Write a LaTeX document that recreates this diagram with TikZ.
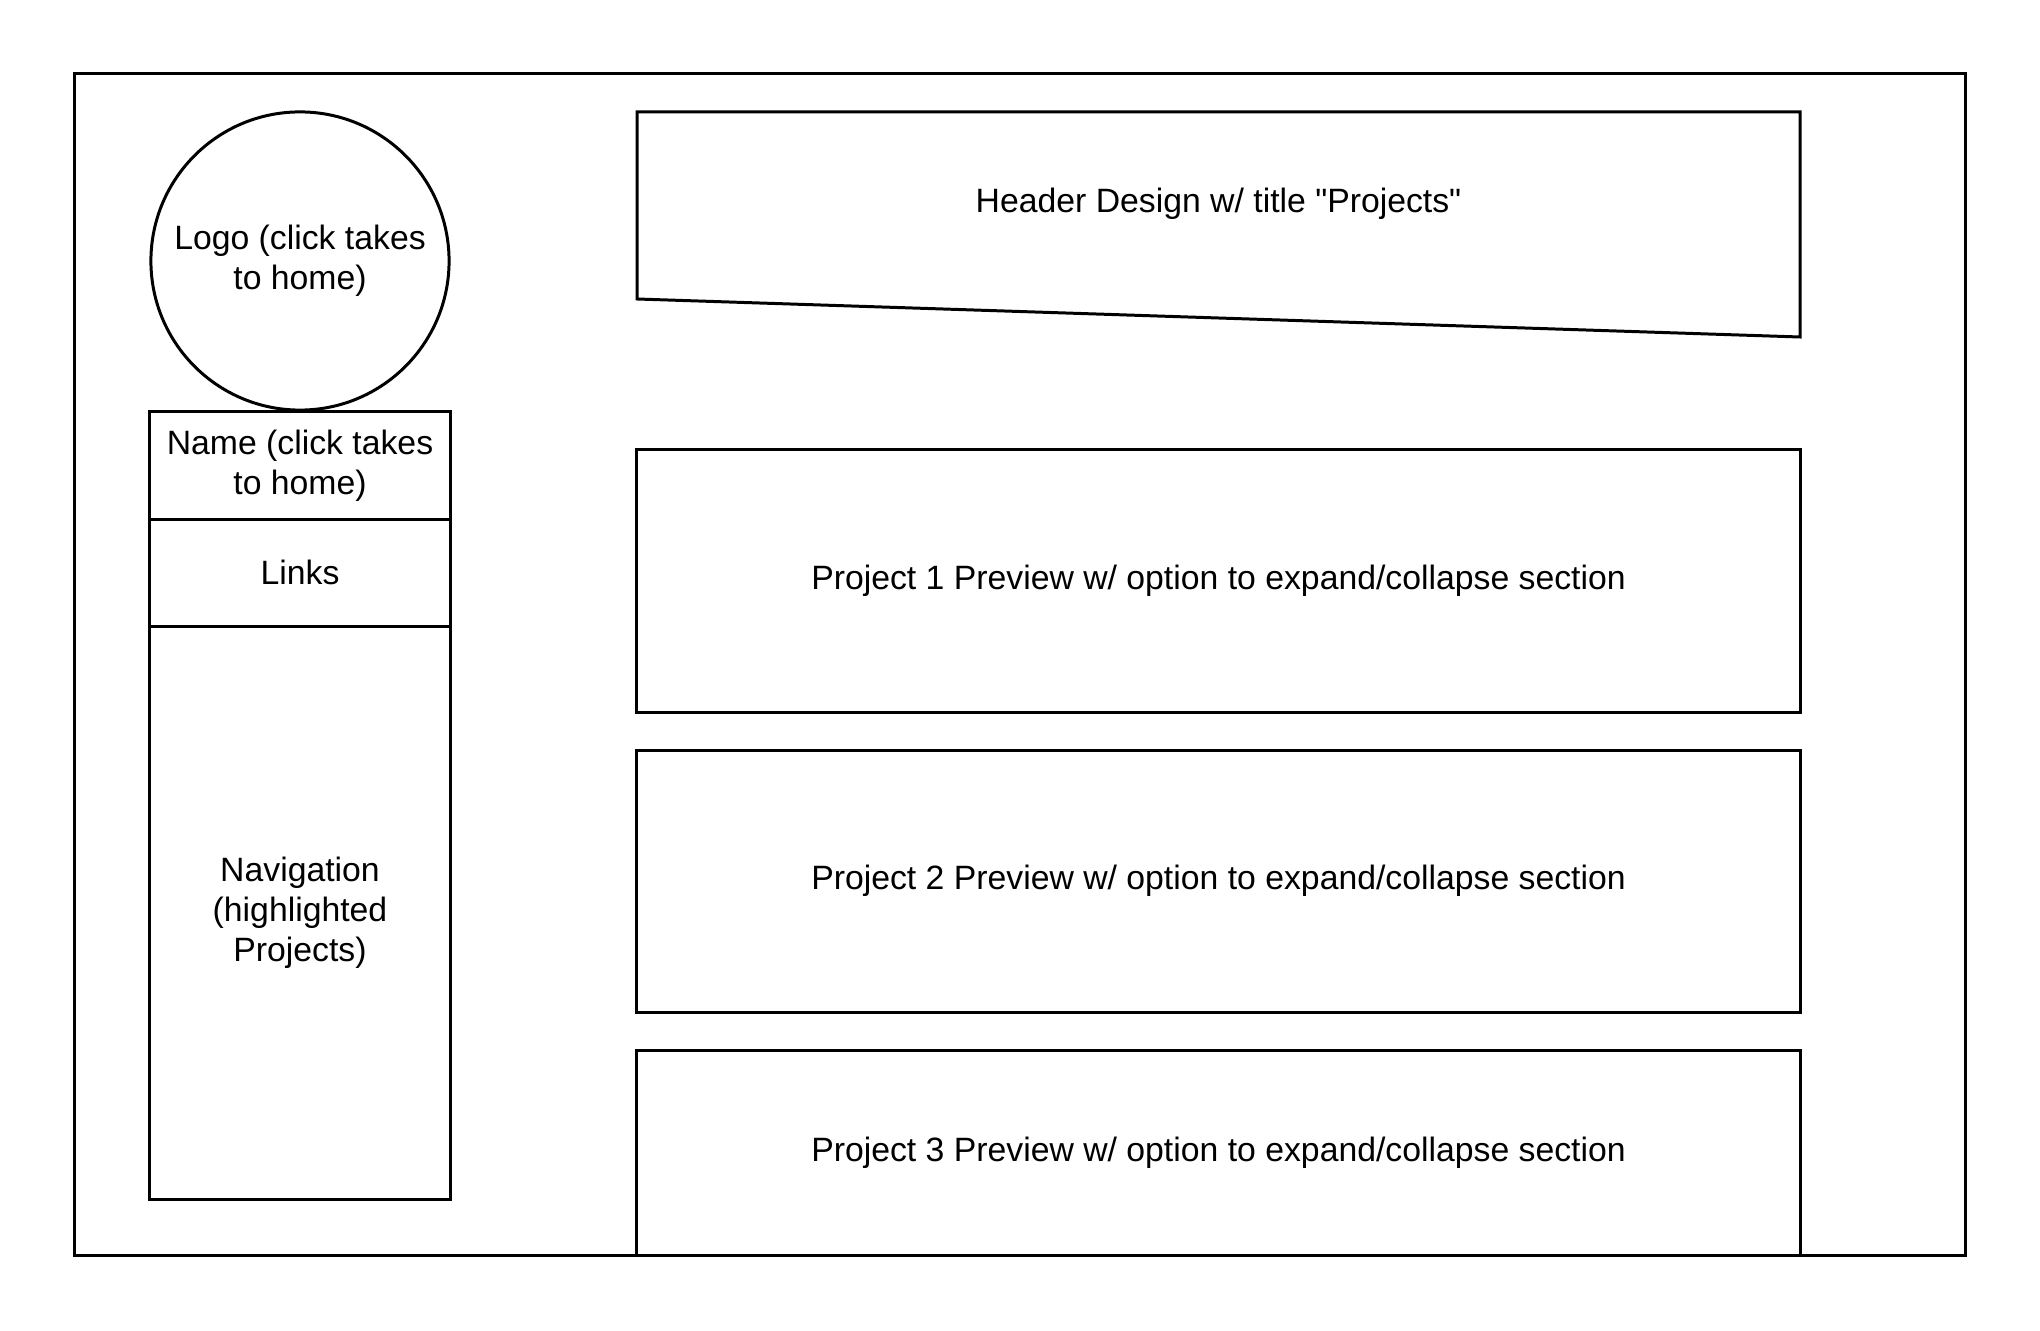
\documentclass[tikz,border=0pt]{standalone}
\usepackage{fontspec}
\setmainfont{Liberation Sans}[Ligatures=TeXOff]
\usetikzlibrary{positioning}

\begin{document}
\begin{tikzpicture}[
    x=0.01cm, y=-0.01cm,
    line width=0.85pt,
    every node/.style={font=\fontsize{9.6}{11.4}\selectfont, align=center, inner sep=0pt, outer sep=0pt},
    panel/.style={rectangle, draw=black, minimum width=#1},
    sidebox/.style={panel=3cm, minimum height=#1},
    preview/.style={panel=11.63cm, minimum height=#1}
]
    \useasboundingbox (0,0) rectangle (2040,1331);

    % Page frame
    \node[panel=18.9cm, minimum height=11.81cm] (page) at (1020,664.5) {};

    % Sidebar
    \node[circle, draw=black, minimum size=2.98cm] (logo) at (300,261) {Logo (click takes\\to home)};
    \node[sidebox=1.07cm] (name) at (300,465.5) {Name (click takes\\to home)};
    \node[sidebox=1.07cm, below=0pt of name] (links) {Links};
    \node[sidebox=5.73cm, below=0pt of links] (nav) {Navigation\\(highlighted\\Projects)};

    % Header
    \draw (637,112) -- (1800,112) -- (1800,337) -- (637,299) -- cycle;
    \node (header) at (1218.5,204) {Header Design w/ title "Projects"};

    % Project previews
    \node[preview=2.62cm] (proj1) at (1218.5,581) {Project 1 Preview w/ option to expand/collapse section};
    \node[preview=2.62cm, below=0.38cm of proj1] (proj2) {Project 2 Preview w/ option to expand/collapse section};
    \node[preview=2.05cm, below=0.38cm of proj2] (proj3) {Project 3 Preview w/ option to expand/collapse section};
\end{tikzpicture}
\end{document}
